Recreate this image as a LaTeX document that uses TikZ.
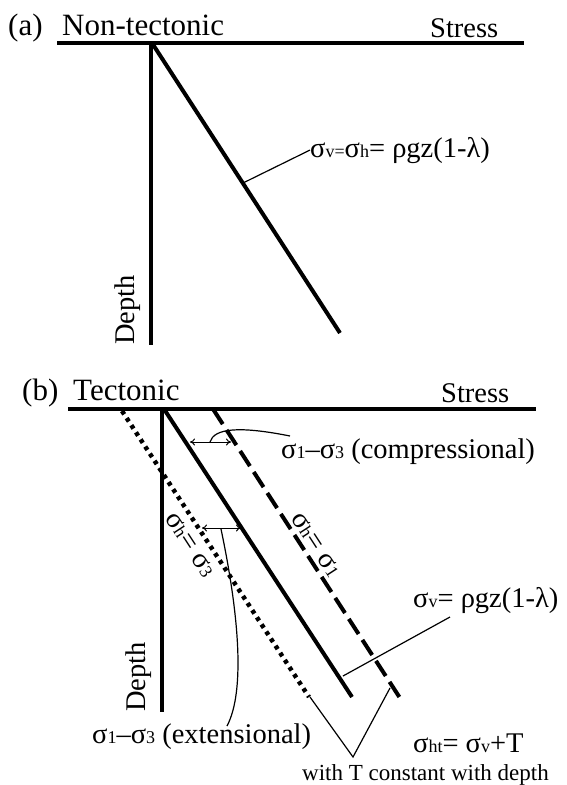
\documentclass[tikz,border=0pt]{standalone}
\usepackage{fontspec}
\setmainfont{Liberation Serif}
\usetikzlibrary{arrows.meta}
\newcommand{\sbs}[1]{{\fontsize{18}{18}\selectfont #1}}

\begin{document}
\begin{tikzpicture}[
  x=1pt,y=1pt,
  axis/.style={line width=4pt},
  profile/.style={line width=4pt},
  dotprofile/.style={line width=4.5pt,dash pattern=on 4pt off 4.5pt},
  dashprofile/.style={line width=4pt,dash pattern=on 18pt off 7pt},
  leader/.style={line width=1.2pt},
  gap/.style={{To[length=5pt,width=7pt]}-{To[length=5pt,width=7pt]},line width=1pt},
  title/.style={inner sep=0pt,anchor=base west,font=\fontsize{31}{34}\selectfont},
  lbl/.style={inner sep=0pt,anchor=base west,font=\fontsize{28.5}{31}\selectfont},
  note/.style={inner sep=0pt,anchor=base west,font=\fontsize{23}{26}\selectfont}
]
  \useasboundingbox (0,0) rectangle (567,-785);

  % (a)
  \node[title] (tagA) at (8,-35) {(a)};
  \node[title] (nameA) at (62,-35) {Non-tectonic};
  \node[lbl] (stressA) at (430,-37) {Stress};
  \node[lbl,rotate=90] (depthA) at (134,-345) {Depth};
  \coordinate (topA) at (151,-43);
  \draw[axis] (57,-43) -- (524,-43);
  \draw[axis] (topA) -- (151,-345);
  \draw[profile] (152,-43) -- (340,-333);
  \coordinate (onA) at (243,-183);
  \node[lbl] (relA) at (310,-157) {σ\sbs{v=}σ\sbs{h}= ρgz(1-λ)};
  \draw[leader] (onA) -- (relA.west);

  % (b)
  \node[title] (tagB) at (22,-400) {(b)};
  \node[title] (nameB) at (73,-400) {Tectonic};
  \node[lbl] (stressB) at (441,-402) {Stress};
  \node[lbl,rotate=90] (depthB) at (145,-712) {Depth};
  \draw[axis] (68,-409) -- (536,-409);
  \draw[axis] (162,-409) -- (162,-712);
  \draw[dotprofile] (122,-411) -- (309,-697);
  \draw[profile] (164,-409) -- (352,-697);
  \draw[dashprofile] (213,-409) -- (400,-698);

  \node[lbl] (compB) at (281,-458) {σ\sbs{1}–σ\sbs{3} (compressional)};
  \draw[gap] (190,-442) -- (231,-442);
  \draw[leader] (210,-442) .. controls (214,-428) and (240,-426) .. (290,-436);

  \node[lbl,anchor=center,rotate=-57] (shOne) at (316,-545) {σ\sbs{h}= σ\sbs{1}};
  \node[lbl,anchor=center,rotate=-57] (shThree) at (190,-545) {σ\sbs{h}= σ\sbs{3}};

  \node[lbl] (extB) at (92,-743) {σ\sbs{1}–σ\sbs{3} (extensional)};
  \draw[gap] (202,-528) -- (241,-528);
  \draw[leader] (221,-529) .. controls (238,-610) and (246,-690) .. (227,-726);

  \node[lbl] (relB) at (413,-607) {σ\sbs{v}= ρgz(1-λ)};
  \coordinate (onB) at (343,-676);
  \coordinate (tipB) at (450,-617);
  \draw[leader] (onB) -- (tipB);

  \coordinate (endDot) at (310,-697);
  \coordinate (vee) at (353,-757);
  \coordinate (endDash) at (390,-688);
  \draw[leader] (endDot) -- (vee) -- (endDash);
  \node[lbl] (htB) at (413,-752) {σ\sbs{ht}= σ\sbs{v}+T};
  \node[note] (withT) at (302,-780) {with T constant with depth};
\end{tikzpicture}
\end{document}
